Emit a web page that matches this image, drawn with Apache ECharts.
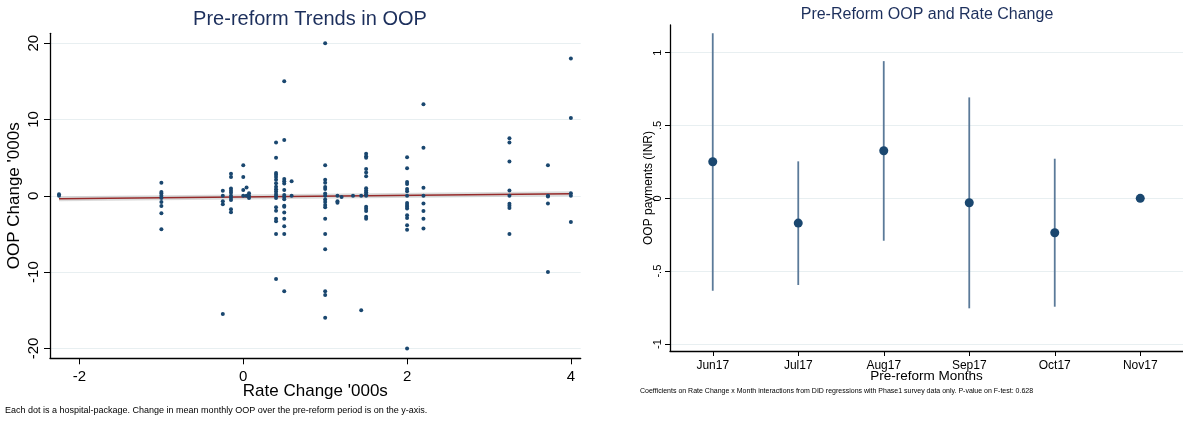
<!DOCTYPE html>
<html>
<head>
<meta charset="utf-8">
<script src="https://cdn.jsdelivr.net/npm/echarts@6/dist/echarts.min.js"></script>
<style>html,body{margin:0;padding:0;background:#fff}#c{width:1183px;height:421px}</style>
</head>
<body>
<div id="c"></div>
<script>
// ---- Left panel data: rate change columns and OOP change values ('000s)
const rateChange = [-2.25, -1.0, -0.25, -0.15, 0.0, 0.04, 0.07, 0.4, 0.5, 0.59, 1.0, 1.15, 1.2, 1.34, 1.44, 1.5, 2.0, 2.2, 3.25, 3.72, 4.0];
const oopChange = [
  [0.2, 0],
  [1.7, 0.5, 0.3, 0, -0.3, -0.8, -1.35, -2.3, -4.4],
  [0.65, 0, -0.7, -1.1, -15.5],
  [2.9, 2.45, 0.95, 0.65, 0.4, 0, -0.25, -0.55, -1.75, -2.15],
  [4.0, 2.45, 0.75, 0],
  [1.1, 0],
  [0.35, 0, -0.3],
  [7, 5, 3, 2.75, 2.45, 2.1, 1.65, 1.2, 0.85, 0.55, 0.25, 0, -0.3, -1.5, -1.95, -3, -3.35, -5, -10.9],
  [15, 7.3, 2.2, 1.9, 1.6, 0.75, 0.1, -0.15, -0.45, -1.3, -1.45, -2.2, -3, -4, -5, -12.5],
  [1.9, 0],
  [20, 4, 2.1, 1.7, 1.15, 0.9, 0.3, 0, -0.5, -0.8, -1.2, -1.5, -3, -5, -7, -12.5, -13, -16],
  [0, -0.7, -0.9],
  [-0.17],
  [0],
  [0, -15],
  [5.5, 5.2, 5.0, 3.5, 3.05, 2.55, 1.0, 0.7, 0.45, 0.2, 0, -1.45, -1.7, -2.0, -2.75, -3.0],
  [5.05, 3.6, 1.8, 1.55, 0.9, 0.6, 0, -0.95, -1.2, -1.45, -1.65, -2.55, -2.9, -3.85, -4.45, -20],
  [12, 6.3, 1.05, 0, -1.0, -2.0, -3.0, -4.3],
  [7.55, 7.0, 4.5, 0.7, 0, -1.05, -1.3, -1.6, -5],
  [4, 0, -0.1, -1.0, -10],
  [18, 10.2, 0.35, 0, -3.45]
];
const fitLineX = [-2.25, 4.0];
const fitLineY = [-0.4, 0.26];
const leftXTicks = [-2, 0, 2, 4];
const leftYTicks = [-20, -10, 0, 10, 20];

// ---- Right panel data
const months = ['Jun17', 'Jul17', 'Aug17', 'Sep17', 'Oct17', 'Nov17'];
const coef = [0.251, -0.17, 0.327, -0.03, -0.236, 0];
const ciLow = [-0.634, -0.595, -0.291, -0.755, -0.744, null];
const ciHigh = [1.133, 0.254, 0.942, 0.693, 0.272, null];
const rightYTicks = [-1, -0.5, 0, 0.5, 1];
const rightYTickLabels = ['-1', '-.5', '0', '.5', '1'];

const scatterData = [];
rateChange.forEach((x, i) => oopChange[i].forEach(y => scatterData.push([x, y])));
const fitData = fitLineX.map((x, i) => [x, fitLineY[i]]);
const ciData = months.map((m, i) => [i, ciLow[i], ciHigh[i]]).filter(d => d[1] !== null);

const FONT = '"Liberation Sans", Arial, Helvetica, sans-serif';
const NAVY = '#1a476f';
const TITLE = '#1c2f5c';
const GRIDC = '#e8eff1';

const chart = echarts.init(document.getElementById('c'), null, {renderer: 'canvas'});
chart.setOption({
  animation: false,
  backgroundColor: '#fff',
  textStyle: {fontFamily: FONT},
  grid: [
    {left: 50, top: 33.3, width: 530.7, height: 325},
    {left: 670, top: 25, width: 516, height: 326}
  ],
  xAxis: [
    {
      gridIndex: 0, type: 'value', min: -2.36, max: 4.12,
      axisLine: {show: true, onZero: false, lineStyle: {color: '#000', width: 1.3}},
      axisTick: {show: true, length: 6, customValues: leftXTicks, lineStyle: {color: '#000'}},
      axisLabel: {customValues: leftXTicks, fontSize: 15, color: '#000', margin: 11, fontFamily: FONT},
      splitLine: {show: false},
      name: "Rate Change '000s", nameLocation: 'middle', nameGap: 25, nameMoveOverlap: false,
      nameTextStyle: {fontSize: 17, color: '#000', fontFamily: FONT}
    },
    {
      gridIndex: 1, type: 'category', data: months, boundaryGap: true,
      axisLine: {show: true, onZero: false, lineStyle: {color: '#000', width: 1.3}},
      axisTick: {show: true, alignWithLabel: true, length: 5, lineStyle: {color: '#000'}},
      axisLabel: {fontSize: 12, color: '#000', margin: 9, fontFamily: FONT},
      name: 'Pre-reform Months', nameLocation: 'middle', nameGap: 18, nameMoveOverlap: false,
      nameTextStyle: {fontSize: 13.5, color: '#000', fontFamily: FONT}
    }
  ],
  yAxis: [
    {
      gridIndex: 0, type: 'value', min: -21.3, max: 21.3,
      axisLine: {show: true, onZero: false, lineStyle: {color: '#000', width: 1.3}},
      axisTick: {show: true, length: 6, customValues: leftYTicks, lineStyle: {color: '#000'}},
      axisLabel: {customValues: leftYTicks, rotate: 90, fontSize: 15, color: '#000', margin: 9, fontFamily: FONT},
      splitLine: {show: true, lineStyle: {color: GRIDC, width: 1.2}},
      name: "OOP Change '000s", nameLocation: 'middle', nameGap: 27, nameMoveOverlap: false,
      nameTextStyle: {fontSize: 17, color: '#000', fontFamily: FONT}
    },
    {
      gridIndex: 1, type: 'value', min: -1.048, max: 1.19,
      axisLine: {show: true, onZero: false, lineStyle: {color: '#000', width: 1.3}},
      axisTick: {show: true, length: 5, customValues: rightYTicks, lineStyle: {color: '#000'}},
      axisLabel: {customValues: rightYTicks, rotate: 90, fontSize: 11, color: '#000', margin: 7, fontFamily: FONT,
        formatter: v => rightYTickLabels[rightYTicks.indexOf(Math.round(v * 10) / 10)] ?? String(v)},
      splitLine: {show: true, lineStyle: {color: GRIDC, width: 1.2}},
      name: 'OOP payments (INR)', nameLocation: 'middle', nameGap: 15, nameMoveOverlap: false,
      nameTextStyle: {fontSize: 12, color: '#000', fontFamily: FONT}
    }
  ],
  graphic: [
    {type: 'text', style: {text: 'Pre-reform Trends in OOP', x: 310, y: 19, textAlign: 'center', textVerticalAlign: 'middle', font: '20px ' + FONT, fill: TITLE}},
    {type: 'text', style: {text: 'Pre-Reform OOP and Rate Change', x: 927, y: 15, textAlign: 'center', textVerticalAlign: 'middle', font: '16px ' + FONT, fill: TITLE}},
    {type: 'text', style: {text: 'Each dot is a hospital-package. Change in mean monthly OOP over the pre-reform period is on the y-axis.', x: 5, y: 411, textAlign: 'left', textVerticalAlign: 'middle', font: '9px ' + FONT, fill: '#000'}},
    {type: 'text', style: {text: 'Coefficients on Rate Change x Month interactions from DID regressions with Phase1 survey data only. P-value on F-test: 0.628', x: 640, y: 391, textAlign: 'left', textVerticalAlign: 'middle', font: '7px ' + FONT, fill: '#000'}}
  ],
  series: [
    {
      type: 'line', xAxisIndex: 0, yAxisIndex: 0, data: fitData, symbol: 'none', z: 1,
      lineStyle: {color: 'rgba(190,190,190,0.55)', width: 5}
    },
    {
      type: 'scatter', xAxisIndex: 0, yAxisIndex: 0, data: scatterData, symbolSize: 4, z: 3,
      itemStyle: {color: NAVY, opacity: 1}
    },
    {
      type: 'line', xAxisIndex: 0, yAxisIndex: 0, data: fitData, symbol: 'none', z: 2,
      lineStyle: {color: '#962a2a', width: 1.5, opacity: 1}
    },
    {
      type: 'custom', xAxisIndex: 1, yAxisIndex: 1, data: ciData, z: 2,
      renderItem: (params, api) => {
        const p1 = api.coord([api.value(0), api.value(1)]);
        const p2 = api.coord([api.value(0), api.value(2)]);
        return {type: 'line', shape: {x1: p1[0], y1: p1[1], x2: p2[0], y2: p2[1]},
          style: {stroke: '#5b7a99', lineWidth: 1.8}};
      },
      encode: {x: 0, y: [1, 2]}
    },
    {
      type: 'scatter', xAxisIndex: 1, yAxisIndex: 1, data: coef, symbolSize: 9, z: 3,
      itemStyle: {color: NAVY, opacity: 1}
    }
  ]
});
</script>
</body>
</html>
